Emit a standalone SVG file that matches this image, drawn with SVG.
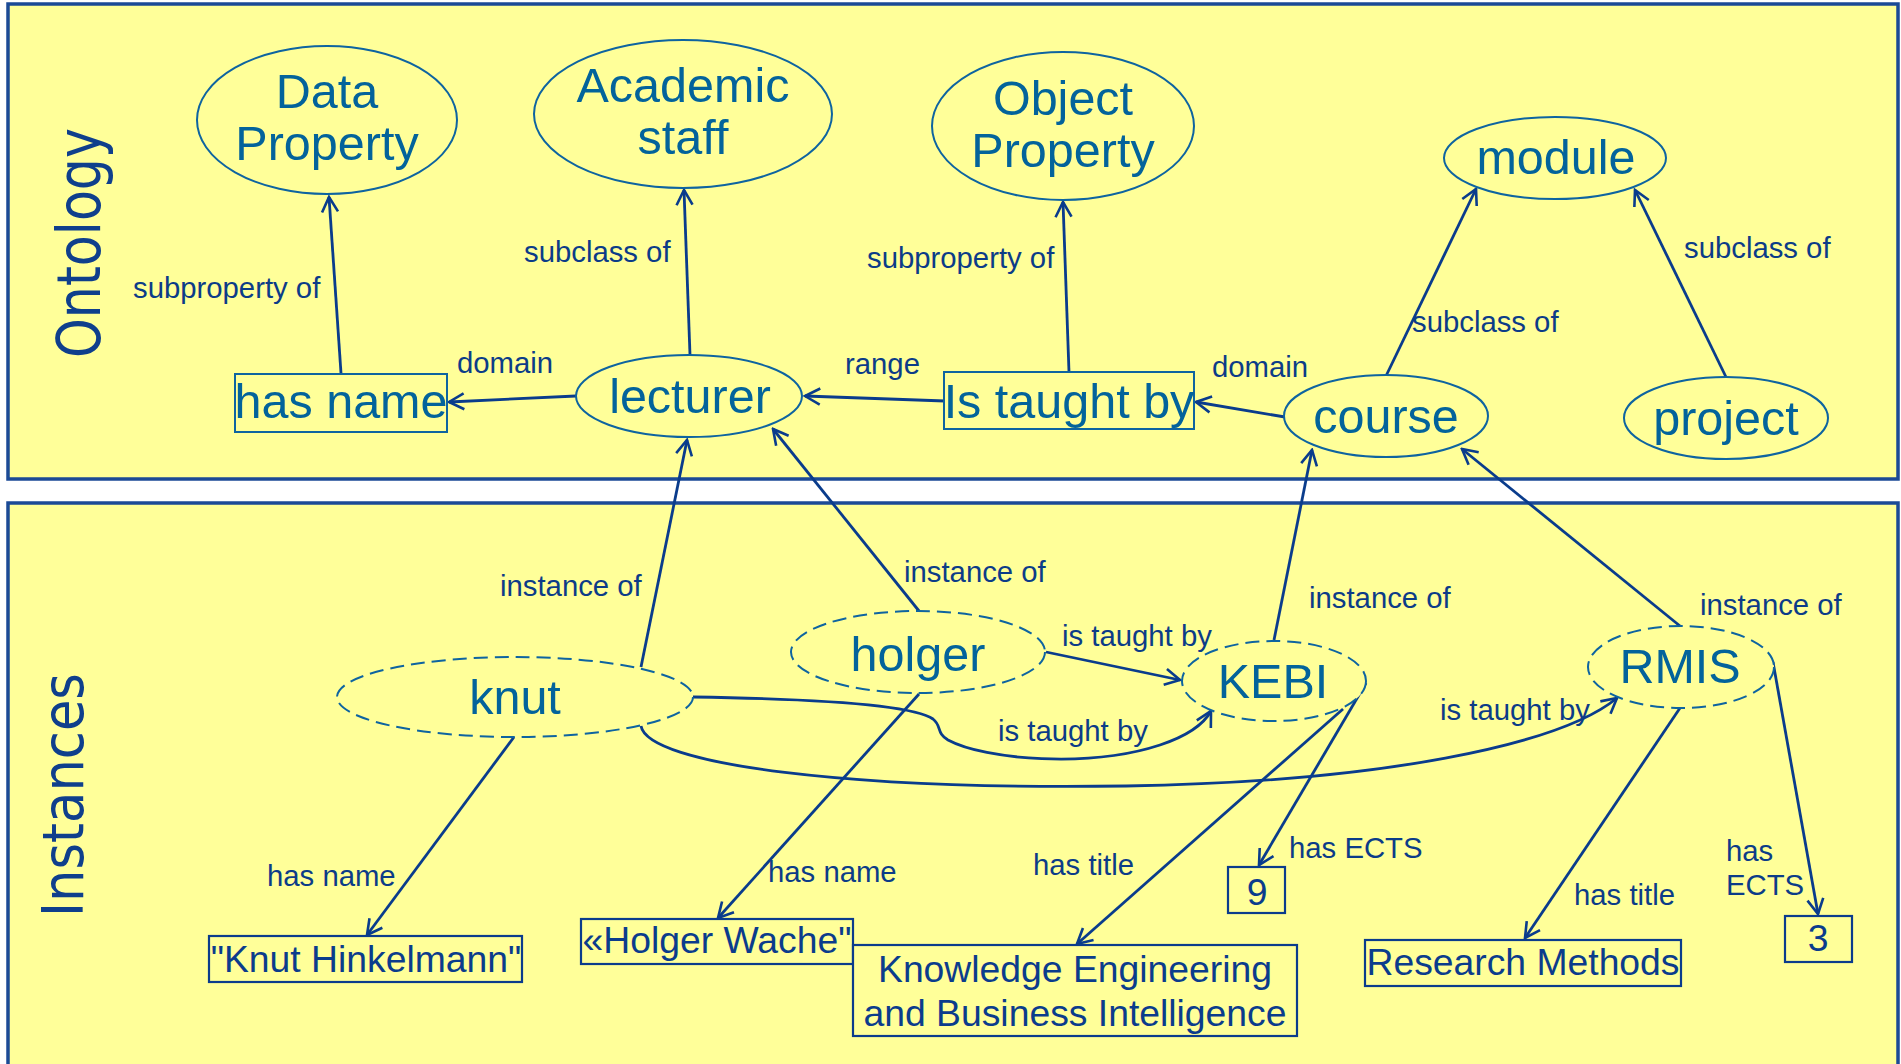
<svg xmlns="http://www.w3.org/2000/svg" width="1901" height="1064" viewBox="0 0 1901 1064">
<defs>
<style>
.panel{fill:#FFFF99;stroke:#1B4A96;stroke-width:3.5}
.cls{fill:#FFFF99;stroke:#0E64A0;stroke-width:2}
.inst{fill:#FFFF99;stroke:#0E64A0;stroke-width:2;stroke-dasharray:14 7}
.prop{fill:#FFFF99;stroke:#0E64A0;stroke-width:2}
.val{fill:#FFFF99;stroke:#0B3C8C;stroke-width:2.2}
.nl{font-family:"Liberation Sans",Arial,sans-serif;font-size:48.5px;fill:#03639B;text-anchor:middle}
.vl{font-family:"Liberation Sans",Arial,sans-serif;font-size:37.3px;fill:#0B3C8C;text-anchor:middle}
.el{font-family:"Liberation Sans",Arial,sans-serif;font-size:29.3px;fill:#0C3C88}
.sec{font-family:"DejaVu Sans",Verdana,sans-serif;fill:#0F3F8C;text-anchor:middle}
.c{fill:none;stroke:#0A3C8C;stroke-width:2.8;marker-end:url(#arr)}
</style>
<marker id="arr" viewBox="-17 -10 19 20" refX="0" refY="0" markerWidth="19" markerHeight="20" markerUnits="userSpaceOnUse" orient="auto">
<path d="M-15,-8 L0,0 L-15,8" fill="none" stroke="#0A3C8C" stroke-width="2.6"/>
</marker>
</defs>

<g id="panels">
<rect class="panel" x="8" y="4" width="1890" height="475"/>
<rect class="panel" x="8" y="503" width="1890" height="570"/>
<text class="sec" font-size="61" transform="translate(100,243) rotate(-90)" textLength="230" lengthAdjust="spacingAndGlyphs">Ontology</text>
<text class="sec" font-size="57" transform="translate(83,795) rotate(-90)" textLength="244" lengthAdjust="spacingAndGlyphs">Instances</text>
</g>

<g id="connectors">
<path class="c" d="M341,373 L329,197"/>
<path class="c" d="M690,355 L684,190"/>
<path class="c" d="M576,396 L449,402"/>
<path class="c" d="M945,401 L805,396"/>
<path class="c" d="M1069,372 L1063,202"/>
<path class="c" d="M1285,417 L1196,402"/>
<path class="c" d="M1386,376 L1476,189"/>
<path class="c" d="M1726,377 L1635,190"/>
<path class="c" d="M641,667 L687,440"/>
<path class="c" d="M919,611 L773,429"/>
<path class="c" d="M1274,640 L1312,450"/>
<path class="c" d="M1680,626 L1462,449"/>
<path class="c" d="M1046,652 L1180,680"/>
<path class="c" d="M693,697 C830,699 915,706 933,719 C942,726 936,733 948,740 C985,760 1090,768 1160,745 C1190,735 1205,722 1211,711"/>
<path class="c" d="M641,726 C648,765 850,790 1126,786 C1380,782 1560,745 1617,698"/>
<path class="c" d="M514,737 L367,935"/>
<path class="c" d="M919,694 L718,918"/>
<path class="c" d="M1343,709 L1077,944"/>
<path class="c" d="M1366,683 L1259,865"/>
<path class="c" d="M1680,708 L1525,938"/>
<path class="c" d="M1773,662 L1818,914"/>

<text class="el" x="133" y="298">subproperty of</text>
<text class="el" x="524" y="262">subclass of</text>
<text class="el" x="457" y="373">domain</text>
<text class="el" x="845" y="374">range</text>
<text class="el" x="867" y="268">subproperty of</text>
<text class="el" x="1212" y="377">domain</text>
<text class="el" x="1412" y="332">subclass of</text>
<text class="el" x="1684" y="258">subclass of</text>
<text class="el" x="500" y="596">instance of</text>
<text class="el" x="904" y="582">instance of</text>
<text class="el" x="1309" y="608">instance of</text>
<text class="el" x="1700" y="615">instance of</text>
<text class="el" x="1062" y="646">is taught by</text>
<text class="el" x="998" y="741">is taught by</text>
<text class="el" x="1440" y="720">is taught by</text>
<text class="el" x="267" y="886">has name</text>
<text class="el" x="768" y="882">has name</text>
<text class="el" x="1033" y="875">has title</text>
<text class="el" x="1289" y="858">has ECTS</text>
<text class="el" x="1574" y="905">has title</text>
<text class="el" x="1726" y="861">has</text>
<text class="el" x="1726" y="895">ECTS</text>
</g>

<g id="data-property"><ellipse class="cls" cx="327" cy="120" rx="130" ry="74"/><text class="nl" x="327" y="108">Data</text><text class="nl" x="327" y="160">Property</text></g>
<g id="academic-staff"><ellipse class="cls" cx="683" cy="114" rx="149" ry="74"/><text class="nl" x="683" y="102">Academic</text><text class="nl" x="683" y="154">staff</text></g>
<g id="object-property"><ellipse class="cls" cx="1063" cy="126" rx="131" ry="74"/><text class="nl" x="1063" y="115">Object</text><text class="nl" x="1063" y="167">Property</text></g>
<g id="module"><ellipse class="cls" cx="1555" cy="158" rx="111" ry="41"/><text class="nl" x="1556" y="174">module</text></g>
<g id="has-name"><rect class="prop" x="235" y="374" width="212" height="58"/><text class="nl" x="341" y="418">has name</text></g>
<g id="lecturer"><ellipse class="cls" cx="689" cy="396" rx="113" ry="41"/><text class="nl" x="690" y="413">lecturer</text></g>
<g id="is-taught-by"><rect class="prop" x="944" y="372" width="250" height="57"/><text class="nl" x="1069" y="418">Is taught by</text></g>
<g id="course"><ellipse class="cls" cx="1386" cy="416" rx="102" ry="41"/><text class="nl" x="1386" y="433">course</text></g>
<g id="project"><ellipse class="cls" cx="1726" cy="418" rx="102" ry="41"/><text class="nl" x="1726" y="435">project</text></g>

<g id="knut"><ellipse class="inst" cx="515" cy="697" rx="178" ry="40"/><text class="nl" x="515" y="714">knut</text></g>
<g id="holger"><ellipse class="inst" cx="918" cy="652" rx="127" ry="41"/><text class="nl" x="918" y="671">holger</text></g>
<g id="kebi"><ellipse class="inst" cx="1274" cy="681" rx="92" ry="40"/><text class="nl" x="1273" y="698">KEBI</text></g>
<g id="rmis"><ellipse class="inst" cx="1681" cy="667" rx="93" ry="41"/><text class="nl" x="1680" y="683">RMIS</text></g>

<g id="knut-hinkelmann"><rect class="val" x="209" y="936" width="313" height="46"/><text class="vl" x="366" y="972">"Knut Hinkelmann"</text></g>
<g id="holger-wache"><rect class="val" x="581" y="919" width="272" height="45"/><text class="vl" x="717" y="953">«Holger Wache"</text></g>
<g id="kebi-title"><rect class="val" x="853" y="945" width="444" height="91"/><text class="vl" x="1075" y="982">Knowledge Engineering</text><text class="vl" x="1075" y="1026">and Business Intelligence</text></g>
<g id="ects-9"><rect class="val" x="1228" y="867" width="57" height="46"/><text class="vl" x="1257" y="905">9</text></g>
<g id="rmis-title"><rect class="val" x="1365" y="940" width="316" height="46"/><text class="vl" x="1523" y="975">Research Methods</text></g>
<g id="ects-3"><rect class="val" x="1785" y="916" width="67" height="46"/><text class="vl" x="1818" y="951">3</text></g>
</svg>
